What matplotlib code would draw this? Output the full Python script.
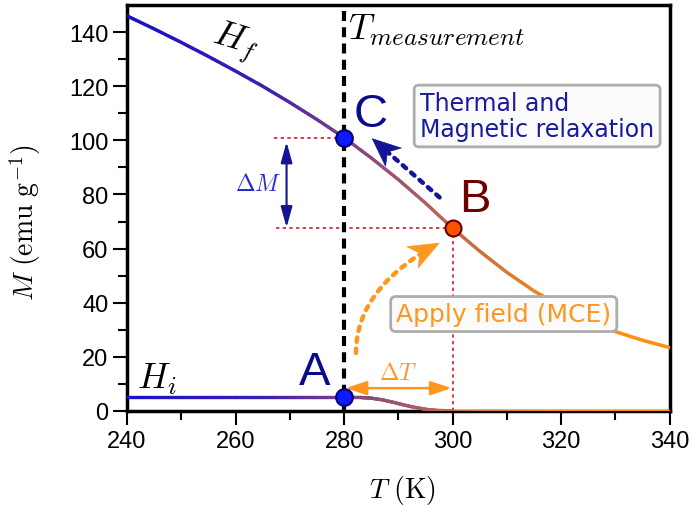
import numpy as np
import matplotlib
matplotlib.use("Agg")
import matplotlib.pyplot as plt
from matplotlib.collections import LineCollection
from matplotlib.colors import LinearSegmentedColormap
from matplotlib.patches import FancyArrowPatch, Polygon
from matplotlib.transforms import IdentityTransform

plt.rcParams['mathtext.fontset'] = 'cm'
plt.rcParams['font.family'] = ['Liberation Sans', 'DejaVu Sans']

# ---- data ----
T_f = [240, 245, 250, 255, 260, 265, 270, 275, 280, 285, 290, 295, 300,
       305, 310, 315, 320, 325, 330, 335, 340]
M_f = [146, 141.2, 136.2, 131, 125.6, 120, 114, 107.7, 101, 93.5, 85.5, 76.8, 67.5,
       59, 51.2, 44.3, 38.6, 33.8, 29.3, 26.1, 23.4]

T_i = [240, 270, 280, 283, 285, 287, 289, 291, 293, 295, 297, 300, 340]
M_i = [5, 5, 5, 4.95, 4.7, 4.1, 3.2, 2.2, 1.3, 0.6, 0.2, 0, 0]

T_meas = 280
pt_A = (280, 5)
pt_B = (300, 67.5)
pt_C = (280, 101)

x_ticks = [240, 260, 280, 300, 320, 340]
y_ticks = [0, 20, 40, 60, 80, 100, 120, 140]

# ---- colours ----
cmap = LinearSegmentedColormap.from_list('grad', [
    (0.00, (25/255, 15/255, 205/255)),
    (0.25, (60/255, 30/255, 180/255)),
    (0.40, (120/255, 65/255, 140/255)),
    (0.55, (175/255, 95/255, 95/255)),
    (0.65, (205/255, 110/255, 65/255)),
    (0.80, (250/255, 140/255, 25/255)),
    (1.00, (255/255, 145/255, 10/255)),
])
navy = (20/255, 20/255, 150/255)
orange = (255/255, 150/255, 30/255)
red = (210/255, 30/255, 40/255)

fig = plt.figure(figsize=(6.94, 5.06), dpi=100)
ax = fig.add_axes([0.183, 0.186, 0.782, 0.802])
ax.set_xlim(240, 340)
ax.set_ylim(0, 150)


def grad_line(T, M, lw):
    T = np.asarray(T, float)
    M = np.asarray(M, float)
    segs, cols = [], []
    for k in range(len(T) - 1):
        n = 12
        for j in range(n):
            a, b = j / n, (j + 1) / n
            p0 = (T[k] + a * (T[k+1] - T[k]), M[k] + a * (M[k+1] - M[k]))
            p1 = (T[k] + b * (T[k+1] - T[k]), M[k] + b * (M[k+1] - M[k]))
            segs.append([p0, p1])
            cols.append(cmap((0.5 * (p0[0] + p1[0]) - 240) / 100))
    lc = LineCollection(segs, colors=cols, linewidths=lw, capstyle='round', zorder=3)
    ax.add_collection(lc)


grad_line(T_f, M_f, 2.4)
grad_line(T_i, M_i, 2.4)

# measurement line
ax.axvline(T_meas, color='black', lw=3, linestyle=(0, (2.4, 1.5)), zorder=2)

# red dotted guides
ddot = (0, (2, 2))
ax.plot([267, pt_C[0]], [pt_C[1], pt_C[1]], color=red, lw=1.2, linestyle=ddot, zorder=1)
ax.plot([267.5, pt_B[0]], [pt_B[1], pt_B[1]], color=red, lw=1.2, linestyle=ddot, zorder=1)
ax.plot([pt_B[0], pt_B[0]], [0, pt_B[1]], color=red, lw=1.2, linestyle=ddot, zorder=1)

# points
ax.plot(*pt_C, 'o', ms=12, mfc=(0.05, 0.1, 1.0), mec=(0, 0, 0.45), mew=1.5, zorder=5)
ax.plot(*pt_A, 'o', ms=12, mfc=(0.05, 0.1, 1.0), mec=(0, 0, 0.45), mew=1.5, zorder=5)
ax.plot(*pt_B, 'o', ms=11.5, mfc=(1.0, 0.32, 0.0), mec=(0.4, 0, 0), mew=1.5, zorder=5)

# letters
ax.text(284.9, 109.8, 'C', color=(10/255, 10/255, 140/255), fontsize=34, ha='center', va='center', zorder=6)
ax.text(304.1, 78.4, 'B', color=(110/255, 0, 0), fontsize=34, ha='center', va='center', zorder=6)
ax.text(274.6, 14.2, 'A', color=(10/255, 10/255, 140/255), fontsize=34, ha='center', va='center', zorder=6)

# curve labels
ax.text(259.9, 136.5, r'$H_f$', fontsize=26, rotation=-17, ha='center', va='center')
ax.text(245.5, 12, r'$H_i$', fontsize=26, ha='center', va='center')
ax.text(280.8, 141, r'$T_{measurement}$', fontsize=26, ha='left', va='center')

# Delta M arrow
ax.annotate('', xy=(269.4, 99.4), xytext=(269.4, 67.8),
            arrowprops=dict(arrowstyle='<|-|>,head_length=0.9,head_width=0.25', color=navy,
                            lw=1.5, shrinkA=0, shrinkB=0, mutation_scale=14))
ax.text(264.2, 84, r'$\Delta M$', color=(40/255, 40/255, 210/255), fontsize=17, ha='center', va='center')

# Delta T arrow
ax.annotate('', xy=(299.8, 8.4), xytext=(280.3, 8.4),
            arrowprops=dict(arrowstyle='<|-|>,head_length=0.9,head_width=0.3', color=orange,
                            lw=1.8, shrinkA=0, shrinkB=0, mutation_scale=14))
ax.text(290, 14, r'$\Delta T$', color=orange, fontsize=17, ha='center', va='center')


def stealth_head(tip, u, color, L, W, notch=0.72):
    n = np.array([-u[1], u[0]])
    pts = [tip,
           tip - u * L + n * W,
           tip - u * L * notch,
           tip - u * L - n * W]
    ax.add_patch(Polygon(pts, closed=True, fc=color, ec=color, lw=0.5,
                         transform=IdentityTransform(), zorder=4))


def dotted_arrow(start, end, color, conn, end_angle=None, L=26, W=12):
    p0 = ax.transData.transform(start)
    p1 = ax.transData.transform(end)
    if end_angle is None:
        u = (p1 - p0) / np.hypot(*(p1 - p0))
    else:
        a = np.deg2rad(end_angle)
        u = np.array([np.cos(a), np.sin(a)])
    shaft = FancyArrowPatch(start, end, connectionstyle=conn,
                            arrowstyle='-', color=color, lw=3.2,
                            linestyle=(0, (1, 1.5)), shrinkA=0,
                            shrinkB=L * 0.7 * 72 / fig.dpi, zorder=4)
    ax.add_patch(shaft)
    stealth_head(p1, u, color, L, W)


# relaxation arrow (dotted, straight)
dotted_arrow((297.6, 78.9), (285.2, 100.6), navy, 'arc3,rad=0', L=28, W=12)
# MCE arrow (dotted, curved)
dotted_arrow((282.2, 21.4), (297.5, 62), orange, 'angle3,angleA=90,angleB=28',
             end_angle=28, L=30, W=12)

# text boxes
ax.text(294, 109, 'Thermal and\nMagnetic relaxation', color=(25/255, 25/255, 160/255),
        fontsize=17, family='DejaVu Sans', ha='left', va='center', linespacing=1.1,
        bbox=dict(boxstyle='round,pad=0.25,rounding_size=0.2', fc=(0.985, 0.985, 0.985),
                  ec=(0.68, 0.68, 0.68), lw=2), zorder=6)
ax.text(289.6, 35.8, 'Apply field (MCE)', color=orange,
        fontsize=18, family='DejaVu Sans', ha='left', va='center',
        bbox=dict(boxstyle='round,pad=0.22,rounding_size=0.2', fc=(0.985, 0.985, 0.985),
                  ec=(0.68, 0.68, 0.68), lw=2), zorder=6)

# axes styling
ax.set_xticks(x_ticks)
ax.set_yticks(y_ticks)
ax.set_xticks(np.arange(250, 340, 20), minor=True)
ax.set_yticks(np.arange(10, 150, 20), minor=True)
ax.tick_params(which='major', direction='out', length=10, width=1.5, labelsize=17)
ax.tick_params(which='minor', direction='out', length=6.5, width=1.5)
for s in ax.spines.values():
    s.set_linewidth(2.5)

ax.set_xlabel(r'$T\ (\mathrm{K})$', fontsize=20)
ax.xaxis.set_label_coords(0.508, -0.152)
ax.set_ylabel(r'$M\ (\mathrm{emu\ g^{-1}})$', fontsize=20)
ax.yaxis.set_label_coords(-0.155, 0.466)

fig.savefig('out.png', dpi=100)
